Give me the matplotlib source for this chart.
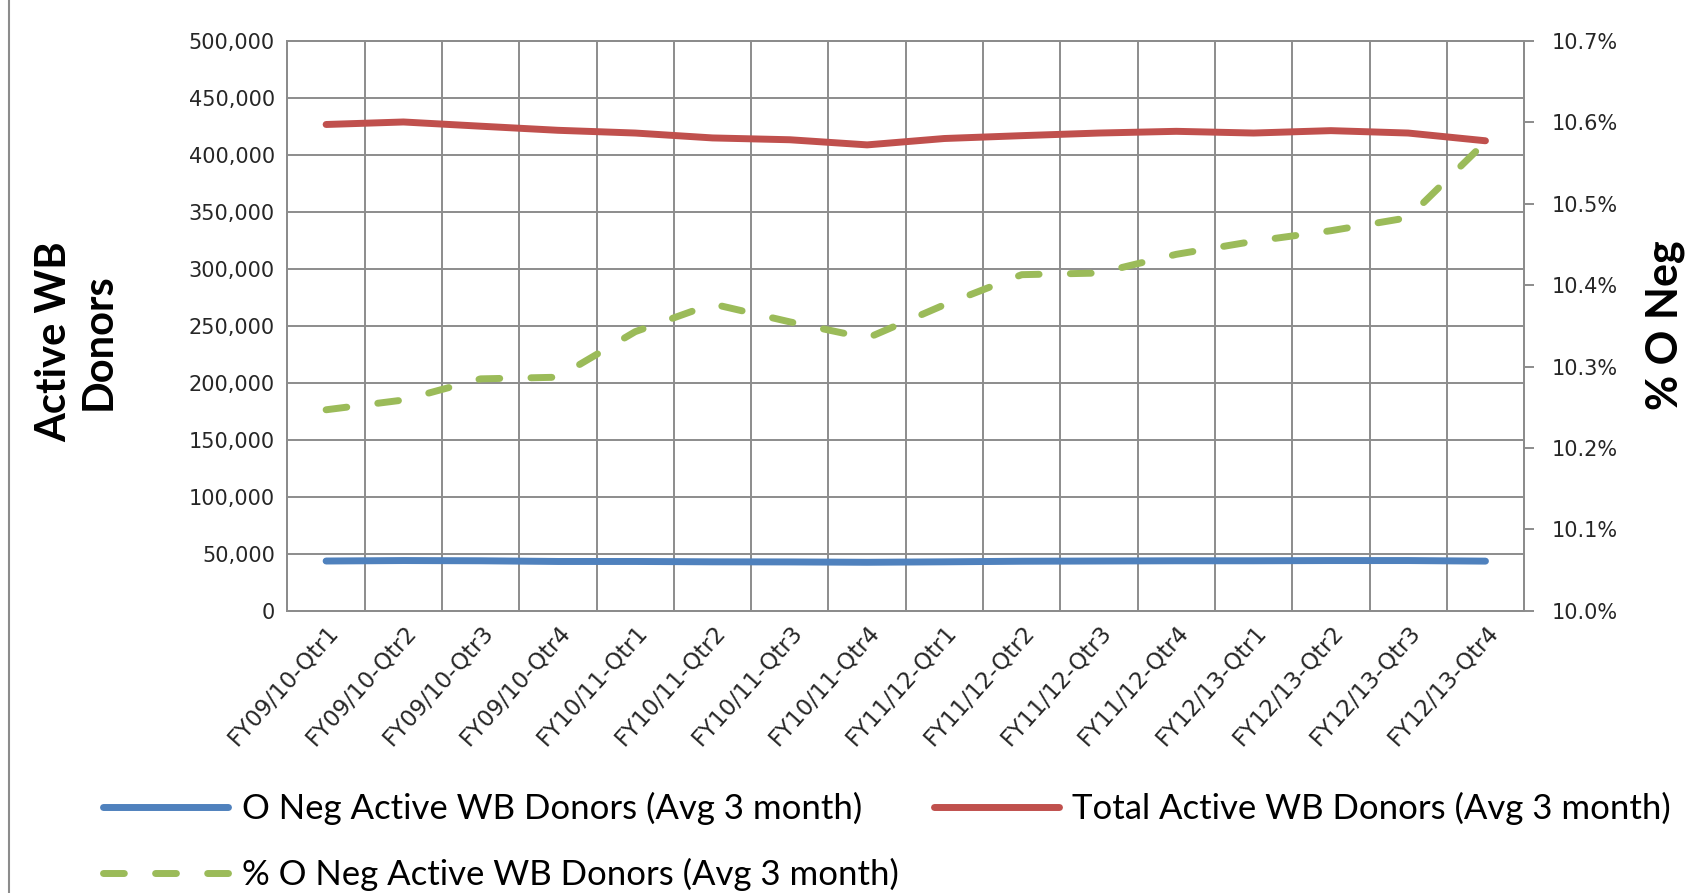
import numpy as np
import matplotlib.pyplot as plt
from matplotlib.lines import Line2D
from matplotlib.ticker import FuncFormatter, FixedLocator

# quarters on the x axis
quarters = [
    "FY09/10-Qtr1", "FY09/10-Qtr2", "FY09/10-Qtr3", "FY09/10-Qtr4",
    "FY10/11-Qtr1", "FY10/11-Qtr2", "FY10/11-Qtr3", "FY10/11-Qtr4",
    "FY11/12-Qtr1", "FY11/12-Qtr2", "FY11/12-Qtr3", "FY11/12-Qtr4",
    "FY12/13-Qtr1", "FY12/13-Qtr2", "FY12/13-Qtr3", "FY12/13-Qtr4",
]

# O Neg active whole blood donors (avg 3 month)
o_neg = [43700, 44100, 43900, 43300, 43300, 43000, 42900, 42600,
         43000, 43500, 43700, 43900, 43900, 44100, 44100, 43600]

# total active whole blood donors (avg 3 month)
total = [426800, 429000, 425300, 421700, 419300, 415000, 413400, 408900,
         414500, 417000, 419300, 420800, 419300, 421400, 419300, 412500]

# % O Neg (right axis, percent)
pct_o_neg = [10.247, 10.259, 10.285, 10.287, 10.343, 10.377, 10.355, 10.335,
             10.376, 10.413, 10.415, 10.438, 10.454, 10.467, 10.483, 10.576]

right_ticks = [10.0, 10.1, 10.2, 10.3, 10.4, 10.5, 10.6, 10.7]

BLUE = "#4F81BD"
RED = "#C0504D"
GREEN = "#9BBB59"
GRID = "#8C8C8C"
TXT = "#262626"

fig = plt.figure(figsize=(17.01, 8.93), dpi=100)
ax = fig.add_axes([0.169, 0.316, 0.727, 0.638])
x = np.arange(len(quarters))

l_blue, = ax.plot(x, o_neg, color=BLUE, lw=5, solid_capstyle="round",
                  label="O Neg Active WB Donors (Avg 3 month)")
l_red, = ax.plot(x, total, color=RED, lw=5, solid_capstyle="round",
                 label="Total Active WB Donors (Avg 3 month)")

ax.set_xlim(-0.5, len(quarters) - 0.5)
ax.set_ylim(0, 500000)
ax.set_yticks(range(0, 500001, 50000))
ax.yaxis.set_major_formatter(FuncFormatter(lambda v, p: f"{v:,.0f}"))
ax.set_xticks(x)
ax.set_xticklabels(quarters, rotation=48, ha="right", rotation_mode="anchor",
                   fontsize=16.5, color=TXT)
ax.set_xticks(np.arange(-0.5, len(quarters), 1), minor=True)
ax.grid(True, axis="y", which="major", color=GRID, lw=1.4)
ax.grid(True, axis="x", which="minor", color=GRID, lw=1.4)
ax.set_axisbelow(True)
ax.tick_params(axis="x", which="both", length=0, pad=7)
ax.tick_params(axis="y", length=0, pad=9, labelsize=15, labelcolor=TXT)

ax2 = ax.twinx()
l_green, = ax2.plot(x, pct_o_neg, color=GREEN, lw=5, ls=(0, (3, 4.5)),
                    dash_capstyle="round",
                    label="% O Neg Active WB Donors (Avg 3 month)")
ax2.set_ylim(10.0, 10.7)
ax2.yaxis.set_major_locator(FixedLocator(right_ticks))
ax2.yaxis.set_major_formatter(FuncFormatter(lambda v, p: f"{v:.1f}%"))
ax2.tick_params(axis="y", length=7, width=1.4, color=GRID, pad=13,
                labelsize=15, labelcolor=TXT)

for a in (ax, ax2):
    for s in a.spines.values():
        s.set_color(GRID)
        s.set_linewidth(1.4)

fig.text(0.045, 0.617, "Active WB\nDonors", rotation=90, ha="center",
         va="center", fontsize=30, fontweight="bold", family="Lato",
         linespacing=1.2)
fig.text(0.979, 0.636, "% O Neg", rotation=90, ha="center", va="center",
         fontsize=31, fontweight="bold", family="Lato")

fig.legend(handles=[l_blue, l_green, l_red], ncol=2, loc="upper left",
           bbox_to_anchor=(0.0606, 0.113), frameon=False, borderpad=0,
           borderaxespad=0, prop={"family": "Lato", "size": 25},
           handlelength=3.6, handletextpad=0.4, columnspacing=1.0,
           labelspacing=0.95)

# chart area border on the left
fig.add_artist(Line2D([0.0055, 0.0055], [0, 1], transform=fig.transFigure,
                      color=GRID, lw=1.5))

fig.savefig("out.png", dpi=100)
